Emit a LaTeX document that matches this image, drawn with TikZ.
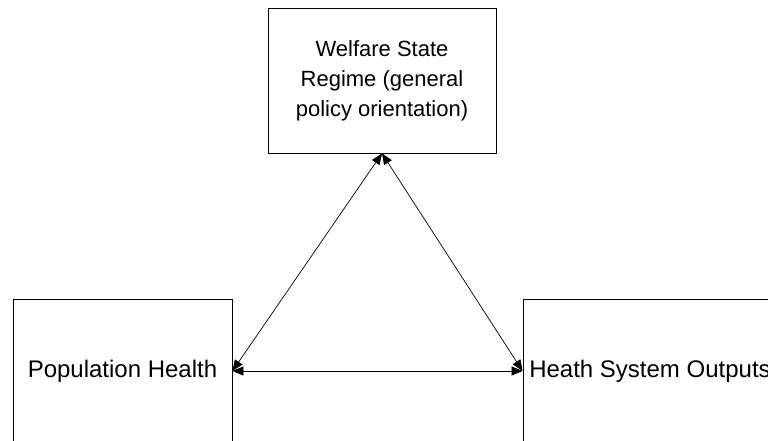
\documentclass[tikz,border=0pt]{standalone}
\usepackage{fontspec}
\setmainfont{Liberation Sans}
\usetikzlibrary{arrows.meta}
\begin{document}
\begin{tikzpicture}[x=1pt,y=-1pt,
  box/.style={draw=black,line width=0.9pt,inner sep=0pt,rectangle},
  link/.style={line width=0.7pt,{Triangle[length=11pt,width=9pt]}-{Triangle[length=11pt,width=9pt]}}]
  \useasboundingbox (0,0) rectangle (768,441);
  \clip (0,0) rectangle (768,441);
  % policy regime box at the top
  \node[box,minimum width=228pt,minimum height=145pt,align=center,
        font=\fontsize{22}{30}\selectfont] (regime) at (382,80.5)
    {Welfare State\\Regime (general\\policy orientation)};
  % outcome boxes along the bottom
  \node[box,minimum width=219pt,minimum height=144pt,
        font=\fontsize{24}{28}\selectfont] (health) at (122.5,371) {Population Health};
  \node[box,minimum width=254pt,minimum height=144pt,
        font=\fontsize{24}{28}\selectfont] (system) at (650,371) {Heath System Outputs};
  % two-way links between the three boxes
  \draw[link] (regime.south) -- (health.east);
  \draw[link] (regime.south) -- (system.west);
  \draw[link] (health.east) -- (system.west);
\end{tikzpicture}
\end{document}
